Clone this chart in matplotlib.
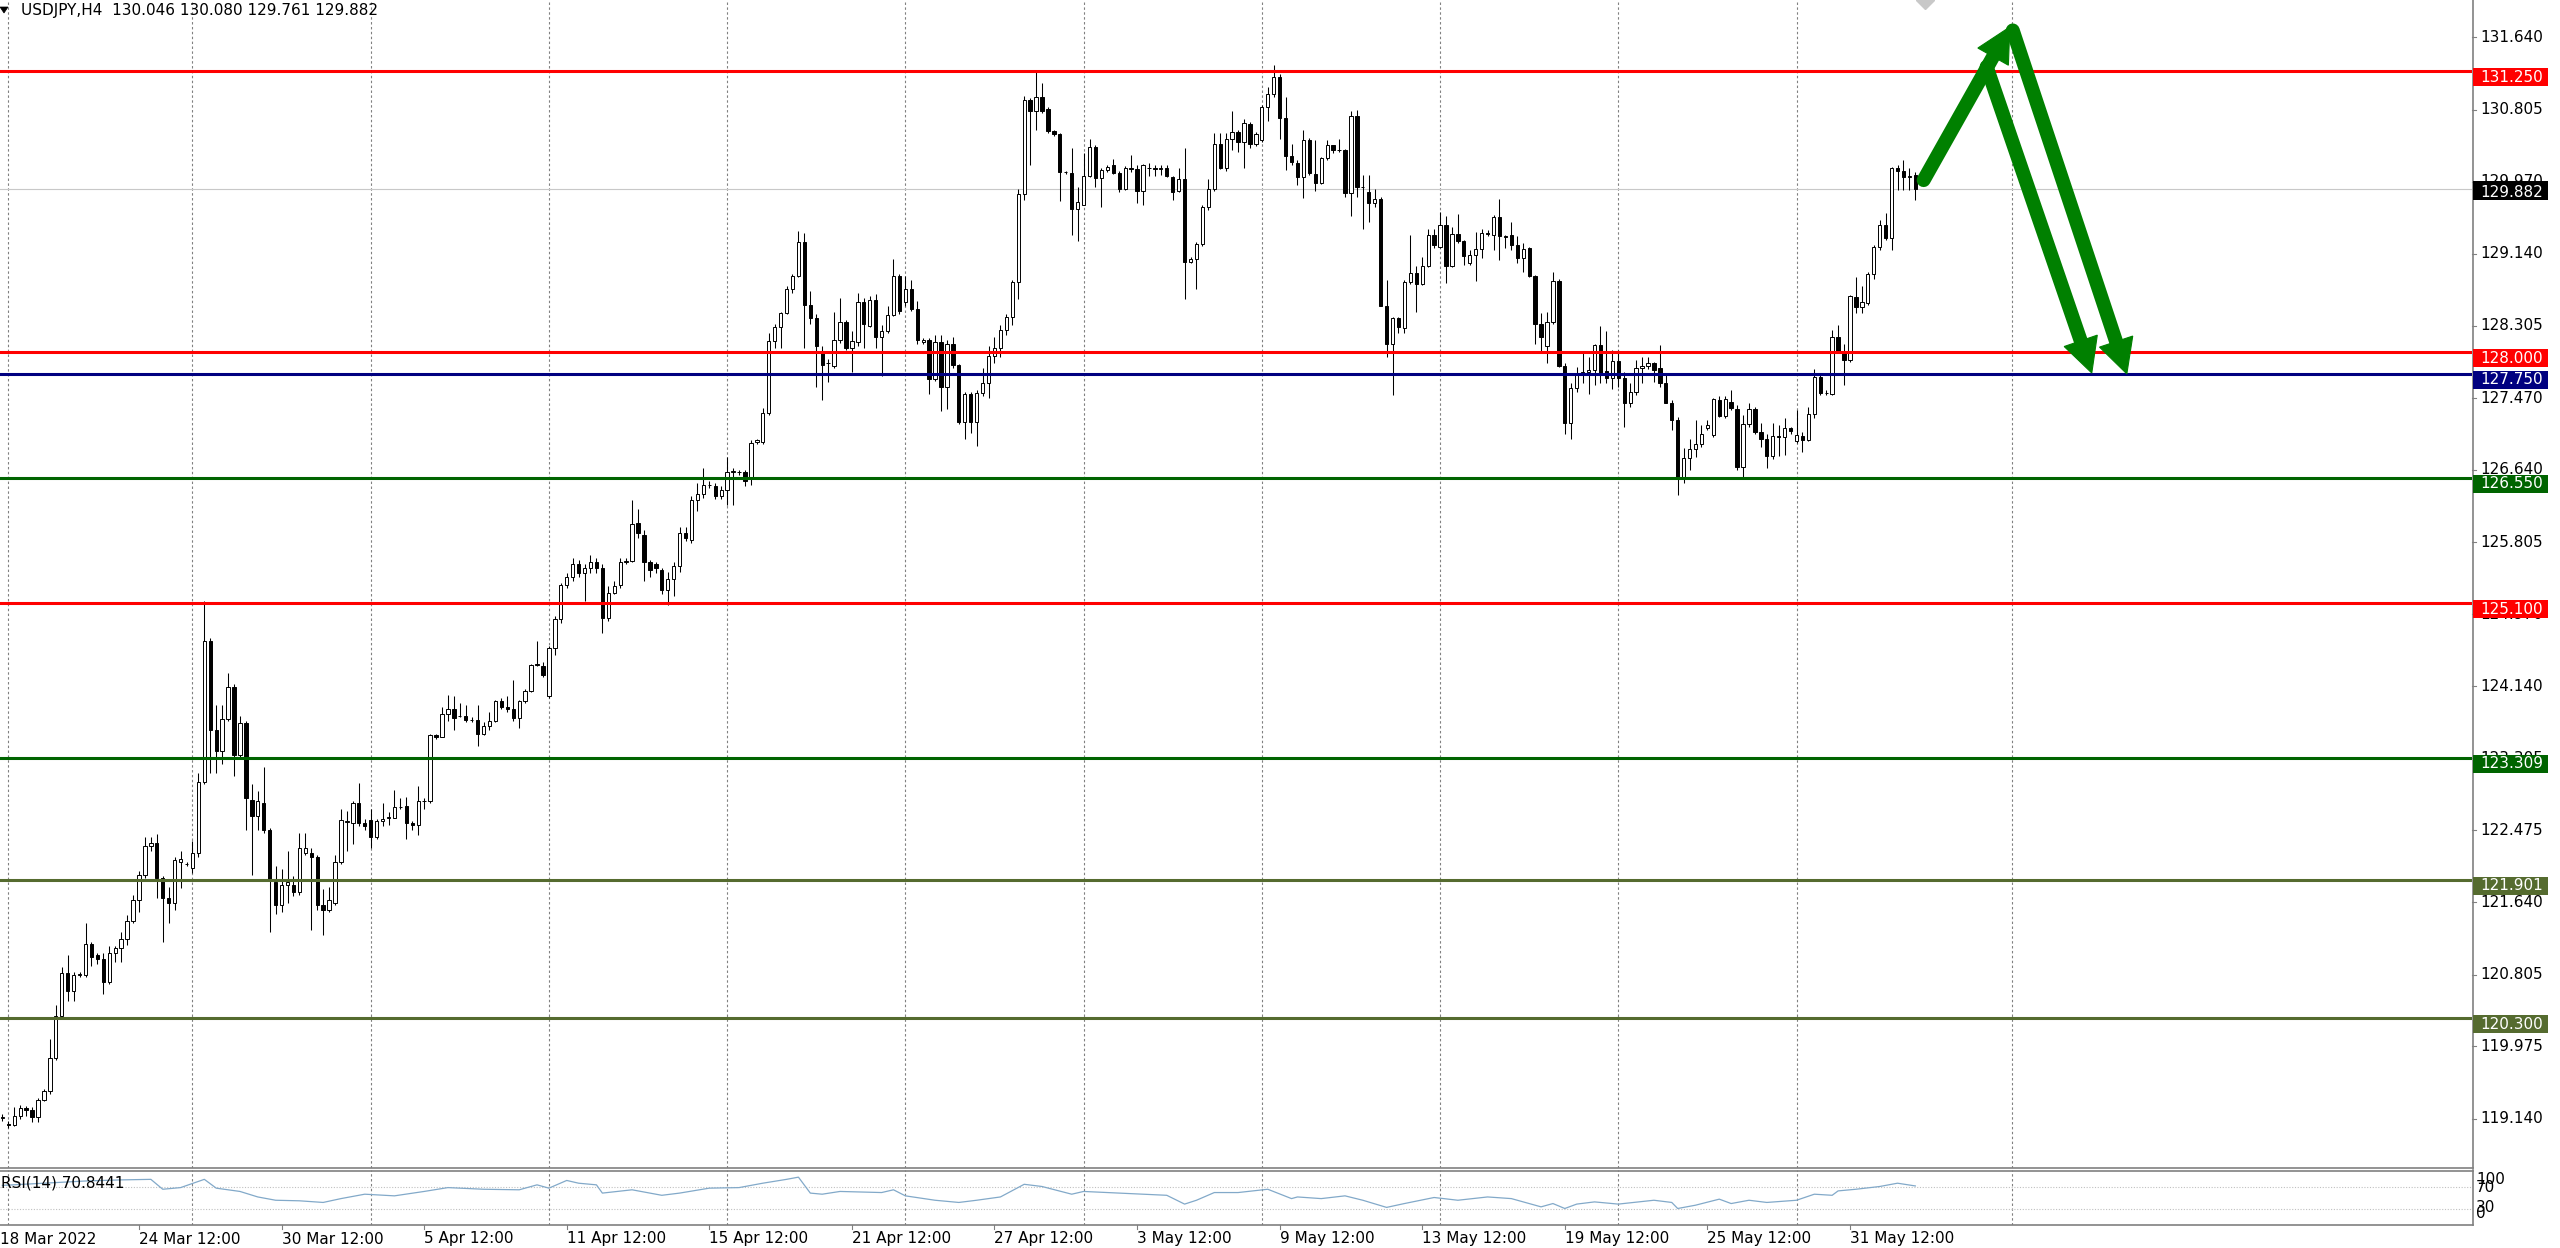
import numpy as np
import matplotlib
matplotlib.use("Agg")
import matplotlib.pyplot as plt
from matplotlib.patches import Rectangle, Polygon
from matplotlib.lines import Line2D
from matplotlib.transforms import blended_transform_factory as btf

plt.rcParams['font.family'] = ['DejaVu Sans']

# ---------------- data (USDJPY H4, bars 1..323) ----------------
opens = [
119.15,119.08,119.07,119.17,119.265,119.24,119.155,119.36,119.463,119.84,
120.33,120.825,120.62,120.80,120.805,121.156,121.03,120.99,120.722,121.05,
121.114,121.218,121.424,121.663,121.961,122.29,122.332,121.92,121.69,121.63,
122.105,122.085,122.043,122.209,123.034,124.665,123.633,123.385,123.757,124.128,
123.344,123.715,122.828,122.642,122.786,122.477,121.878,121.61,121.837,121.837,
121.754,122.209,122.209,122.167,121.61,121.548,121.63,122.105,122.57,122.559,
122.786,122.559,122.588,122.394,122.58,122.62,122.621,122.737,122.758,122.559,
122.539,122.81,122.815,123.571,123.55,123.82,123.872,123.80,123.798,123.75,
123.749,123.592,123.683,123.736,123.971,123.90,123.88,123.777,123.963,124.087,
124.39,124.376,124.025,124.583,124.913,125.305,125.40,125.55,125.45,125.50,
125.58,125.50,124.93,125.22,125.31,125.57,125.591,126.02,125.891,125.57,
125.55,125.485,125.25,125.378,125.527,125.912,125.827,126.297,126.362,126.468,
126.455,126.34,126.404,126.61,126.618,126.618,126.532,126.96,126.96,127.302,
128.128,128.295,128.449,128.735,128.885,129.278,128.543,128.393,128.008,127.88,
127.837,128.136,128.35,128.051,128.115,128.586,128.307,128.598,128.179,128.243,
128.436,128.876,128.586,128.735,128.50,128.115,128.136,127.687,128.115,127.593,
128.094,127.85,127.195,127.516,127.195,127.525,127.645,127.953,128.051,128.256,
128.406,128.808,129.826,130.917,130.788,130.947,130.81,130.553,130.519,130.083,
130.07,129.655,129.706,130.04,130.373,130.018,130.104,130.16,130.074,129.89,
130.125,130.117,129.869,130.134,130.125,130.12,130.125,130.031,129.869,129.997,
129.048,129.077,129.249,129.676,129.882,130.403,130.134,130.467,130.544,130.425,
130.639,130.403,130.454,130.831,130.981,131.178,130.704,130.269,130.184,130.03,
130.454,130.06,129.96,130.242,130.396,130.338,130.338,129.845,130.735,129.91,
129.856,129.729,129.768,128.535,128.095,128.392,128.276,128.808,128.92,128.789,
128.997,129.355,129.22,129.471,128.997,129.367,129.29,129.028,129.124,129.19,
129.38,129.355,129.567,129.344,129.355,129.24,129.086,129.201,128.881,128.326,
128.072,128.353,128.823,127.841,127.178,127.583,127.764,127.77,127.795,128.084,
127.787,127.698,127.903,127.698,127.409,127.544,127.814,127.841,127.872,127.814,
127.641,127.417,127.217,126.554,126.773,126.877,126.935,127.12,127.043,127.448,
127.263,127.429,127.34,126.669,127.17,127.34,127.082,126.993,126.80,127.032,
127.016,127.12,126.978,127.032,126.985,127.282,127.71,127.525,127.517,128.18,
128.007,127.91,128.642,128.527,128.565,128.904,129.213,129.471,129.317,130.125,
130.09,130.03,130.046]

highs = [
119.19,119.11,119.27,119.30,119.29,119.27,119.38,119.48,120.06,120.45,
120.89,121.03,120.83,120.84,121.40,121.18,121.05,121.05,121.13,121.13,
121.30,121.49,121.73,122.00,122.40,122.39,122.43,121.94,121.82,122.17,
122.23,122.105,122.35,123.14,125.12,124.70,123.92,123.92,124.29,124.17,
123.80,123.74,123.01,122.93,123.20,122.50,122.06,122.02,122.23,121.94,
122.44,122.44,122.27,122.19,121.80,121.82,122.19,122.72,122.70,122.81,
123.02,122.60,122.72,122.60,122.79,122.68,122.94,122.85,122.86,122.58,
122.99,122.85,123.59,123.59,123.90,124.04,124.03,123.94,123.92,123.78,
123.92,123.72,123.84,123.98,124.00,124.03,124.21,123.98,124.11,124.40,
124.665,124.42,124.60,124.95,125.33,125.45,125.62,125.60,125.55,125.65,
125.62,125.55,125.30,125.35,125.62,125.62,126.297,126.19,125.95,125.60,
125.58,125.50,125.46,125.57,125.98,125.98,126.34,126.49,126.66,126.51,
126.49,126.45,126.79,126.66,126.64,126.64,126.98,127.00,127.35,128.22,
128.33,128.46,128.76,128.91,129.40,129.38,128.71,128.44,128.07,127.92,
128.46,128.63,128.37,128.24,128.69,128.63,128.65,128.67,128.31,128.54,
129.08,128.91,128.88,128.84,128.59,128.16,128.16,128.20,128.20,128.14,
128.18,127.86,127.54,127.54,127.56,127.82,128.07,128.18,128.31,128.44,
128.84,129.89,130.96,130.94,131.24,131.11,130.83,130.57,130.53,130.10,
130.36,129.91,130.30,130.47,130.40,130.13,130.17,130.23,130.09,130.15,
130.28,130.17,130.18,130.19,130.17,130.16,130.17,130.04,130.125,130.36,
129.10,129.27,129.70,130.00,130.53,130.53,130.53,130.79,130.57,130.70,
130.66,130.55,130.86,131.07,131.32,131.22,130.95,130.41,130.22,130.57,
130.48,130.45,130.26,130.45,130.40,130.47,130.35,130.79,130.80,130.05,
130.05,129.89,129.80,128.84,128.41,128.41,128.83,129.35,128.997,129.10,
129.43,129.43,129.62,129.57,129.45,129.60,129.30,129.18,129.39,129.43,
129.41,129.59,129.77,129.36,129.51,129.34,129.26,129.22,128.89,128.45,
128.47,128.93,128.85,127.87,127.64,127.83,128.01,127.95,128.10,128.30,
128.24,128.03,128.03,127.77,127.64,127.91,127.95,127.95,127.89,128.08,
127.74,127.45,127.25,126.89,127.00,127.22,127.16,127.22,127.47,127.49,
127.49,127.56,127.39,127.27,127.41,127.37,127.18,127.06,127.18,127.16,
127.24,127.14,127.33,127.08,127.37,127.81,127.74,127.56,128.26,128.31,
128.10,128.66,128.87,128.76,128.93,129.24,129.53,129.61,130.14,130.165,
130.22,130.126,130.080]

lows = [
119.11,119.03,119.05,119.13,119.17,119.10,119.10,119.34,119.42,119.82,
120.32,120.50,120.50,120.78,120.78,120.91,120.93,120.58,120.70,120.95,
120.95,121.15,121.40,121.53,121.92,122.23,121.69,121.18,121.40,121.55,
121.81,122.06,121.98,122.17,123.01,123.14,123.14,123.24,123.74,123.10,
123.30,122.48,121.96,122.48,122.44,121.30,121.51,121.53,121.63,121.71,
121.73,122.19,121.32,121.55,121.26,121.53,121.61,122.08,122.23,122.31,
122.52,122.48,122.27,122.37,122.52,122.54,122.61,122.72,122.37,122.48,
122.42,122.72,122.79,123.53,123.55,123.74,123.63,123.78,123.72,123.72,
123.45,123.57,123.63,123.72,123.88,123.84,123.74,123.65,123.94,124.07,
124.375,124.25,124.00,124.50,124.87,125.28,125.35,125.40,125.12,125.45,
125.45,124.75,124.89,125.20,125.28,125.55,125.57,125.85,125.36,125.40,
125.45,125.20,125.08,125.18,125.46,125.82,125.80,126.17,126.32,126.43,
126.30,126.30,126.23,126.23,126.58,126.45,126.47,126.94,126.94,127.28,
128.05,128.05,128.44,128.69,128.87,128.05,128.33,127.60,127.45,127.66,
127.82,128.11,128.03,127.77,128.07,128.05,128.29,128.05,127.73,128.22,
128.42,128.44,128.54,128.48,128.09,128.09,127.52,127.67,127.32,127.34,
127.82,127.17,127.00,127.07,126.92,127.49,127.47,127.88,127.94,128.20,
128.31,128.61,129.76,130.17,130.57,130.77,130.53,130.50,129.75,130.06,
129.36,129.29,129.70,130.02,129.91,129.68,130.08,130.06,129.85,129.87,
130.08,129.72,129.70,130.04,130.04,130.05,130.02,129.76,129.85,128.61,
129.03,128.73,129.23,129.65,129.86,130.12,130.10,130.34,130.32,130.13,
130.36,130.38,130.43,130.67,130.95,130.47,130.11,130.17,129.93,129.78,
130.05,129.86,129.95,130.22,130.30,130.32,129.80,129.57,129.80,129.43,
129.50,129.68,128.53,127.95,127.50,128.22,128.22,128.79,128.47,128.78,
128.99,129.20,129.20,128.80,128.98,129.26,129.01,129.01,128.82,129.09,
129.34,129.18,129.07,129.20,129.18,129.03,128.93,128.87,128.10,128.01,
127.87,128.33,127.83,127.06,127.00,127.54,127.64,127.52,127.62,127.64,
127.64,127.58,127.60,127.14,127.37,127.50,127.64,127.81,127.66,127.60,
127.41,127.10,126.35,126.49,126.64,126.79,126.91,127.10,127.02,127.25,
127.24,127.33,126.64,126.55,127.14,127.06,126.91,126.66,126.77,126.80,
126.81,127.06,126.95,126.85,126.97,127.24,127.50,127.50,127.50,127.99,
127.62,127.89,128.45,128.45,128.55,128.85,129.18,129.30,129.18,129.875,
129.875,129.875,129.761]

closes = [
119.16,119.07,119.17,119.265,119.235,119.155,119.36,119.463,119.84,120.33,
120.825,120.62,120.805,120.81,121.156,121.011,120.99,120.722,121.052,121.114,
121.218,121.424,121.663,121.961,122.291,122.332,121.92,121.692,121.63,122.126,
122.146,122.08,122.209,123.034,124.665,123.633,123.385,123.757,124.128,123.344,
123.715,122.848,122.642,122.807,122.477,121.899,121.61,121.837,121.878,121.754,
122.27,122.27,122.167,121.61,121.548,121.672,122.105,122.588,122.58,122.786,
122.559,122.518,122.394,122.58,122.609,122.625,122.737,122.74,122.559,122.539,
122.807,122.815,123.579,123.55,123.819,123.872,123.777,123.795,123.749,123.745,
123.592,123.683,123.736,123.971,123.901,123.88,123.777,123.963,124.087,124.388,
124.385,124.273,124.583,124.913,125.305,125.40,125.55,125.45,125.50,125.58,
125.50,124.93,125.22,125.30,125.57,125.59,126.019,125.91,125.57,125.485,
125.506,125.25,125.378,125.527,125.912,125.848,126.297,126.362,126.468,126.47,
126.34,126.404,126.618,126.625,126.62,126.511,126.952,126.982,127.302,128.128,
128.295,128.449,128.735,128.885,129.278,128.543,128.393,128.072,127.858,127.875,
128.136,128.35,128.051,128.124,128.586,128.329,128.607,128.179,128.243,128.436,
128.876,128.479,128.735,128.50,128.136,128.14,127.687,128.115,127.593,128.094,
127.858,127.195,127.516,127.195,127.525,127.645,127.953,128.051,128.256,128.406,
128.808,129.826,130.917,130.788,130.947,130.788,130.553,130.519,130.083,130.08,
129.655,129.74,130.04,130.373,130.018,130.104,130.147,130.074,129.89,130.125,
130.12,129.869,130.16,130.13,130.12,130.125,130.04,129.847,129.997,129.048,
129.077,129.249,129.676,129.882,130.403,130.134,130.467,130.544,130.425,130.647,
130.403,130.519,130.831,130.981,131.178,130.704,130.269,130.203,130.022,130.454,
130.068,129.953,130.242,130.396,130.338,130.335,129.845,130.735,129.914,129.906,
129.729,129.768,128.535,128.095,128.392,128.296,128.808,128.92,128.789,128.997,
129.355,129.24,129.471,128.997,129.367,129.29,129.113,129.124,129.19,129.382,
129.37,129.567,129.344,129.336,129.24,129.086,129.19,128.881,128.326,128.18,
128.353,128.823,127.841,127.178,127.583,127.764,127.77,127.795,128.084,127.764,
127.698,127.903,127.698,127.417,127.544,127.814,127.841,127.879,127.795,127.641,
127.417,127.217,126.554,126.773,126.877,126.935,127.051,127.16,127.455,127.263,
127.455,127.351,126.669,127.17,127.34,127.082,126.993,126.80,127.032,127.024,
127.12,127.093,127.043,126.985,127.282,127.71,127.533,127.53,128.18,128.007,
127.91,128.65,128.527,128.585,128.904,129.213,129.471,129.317,130.126,130.09,
130.03,130.035,129.882]

# horizontal levels drawn on the chart
level_prices = [131.250, 128.000, 127.750, 126.550, 125.100, 123.309, 121.901, 120.300]
level_colors = ['#ff0000', '#ff0000', '#000080', '#006400', '#ff0000', '#006400', '#556b2f', '#556b2f']

# price scale
price_ticks = [131.640, 130.805, 129.970, 129.140, 128.305, 127.470, 126.640, 125.805,
               124.970, 124.140, 123.305, 122.475, 121.640, 120.805, 119.975, 119.140]

# time scale (bar index of each label)
date_labels = ['18 Mar 2022', '24 Mar 12:00', '30 Mar 12:00', '5 Apr 12:00', '11 Apr 12:00',
               '15 Apr 12:00', '21 Apr 12:00', '27 Apr 12:00', '3 May 12:00', '9 May 12:00',
               '13 May 12:00', '19 May 12:00', '25 May 12:00', '31 May 12:00']
date_label_bars = [0, 24, 48, 72, 96, 120, 144, 168, 192, 216, 240, 264, 288, 312]
grid_bars = [2, 33, 63, 93, 123, 153, 183, 213, 243, 273, 303, 339.3]

# RSI(14)
rsi_bars = [1, 8, 15, 21, 26, 28, 31, 35, 37, 41, 44, 47, 51, 55, 58, 62, 67, 72, 76, 82,
            88, 91, 93, 96, 98, 101, 102, 107, 112, 115, 120, 125, 129, 133, 135, 137, 139, 142, 149, 151,
            153, 158, 162, 165, 169, 173, 176, 181, 183, 189, 197, 200, 202, 205, 209, 214, 218, 219, 223, 227,
            230, 234, 237, 242, 246, 251, 255, 257, 260, 262, 264, 266, 269, 273, 279, 282, 283, 286, 290, 292,
            295, 298, 303, 306, 309, 310, 313, 317, 320, 323]
rsi_values = [72, 76, 80, 82, 83, 65, 68, 83, 67, 61, 51, 45, 44, 41, 48, 56, 53, 61, 68, 65,
              64, 73, 67, 81, 76, 73, 58, 64, 54, 58, 67, 68, 76, 83, 87, 58, 56, 61, 59, 64,
              53, 45, 41, 45, 51, 74, 70, 56, 61, 58, 54, 38, 45, 59, 59, 65, 48, 51, 48, 53,
              45, 32, 39, 50, 45, 51, 48, 42, 33, 39, 30, 38, 42, 38, 45, 41, 30, 36, 47, 39,
              45, 41, 45, 56, 54, 62, 65, 70, 76, 71]
rsi_last = 70.8441

# hand-drawn arrows (bar, price)
arrow_starts = [(324.4, 129.99), (339.4, 131.72), (335.0, 131.30)]
arrow_ends = [(338.9, 131.76), (358.6, 127.75), (352.7, 127.76)]
shift_marker_bar = 324.7

# ---------------- figure geometry ----------------
W, H = 2560, 1248
PLOT_R = 2472
MAIN_B = 1168
RSI_T, RSI_B = 1170, 1225
X0, X1 = 0.606, 416.7
Y0, Y1 = 118.569, 132.072

fig = plt.figure(figsize=(W / 100, H / 100), dpi=100)
fig.patch.set_facecolor('white')
ax = fig.add_axes([0, 1 - MAIN_B / H, PLOT_R / W, MAIN_B / H])
rx = fig.add_axes([0, 1 - RSI_B / H, PLOT_R / W, (RSI_B - RSI_T) / H])
for a in (ax, rx):
    a.set_xticks([]); a.set_yticks([])
    for s in a.spines.values():
        s.set_visible(False)
    a.set_facecolor('white')

GRAY = '#808080'
FS = 11

# grid
for b in grid_bars:
    ax.axvline(b, color=GRAY, lw=0.8, ls=(0, (2.2, 2.2)), zorder=0)
    rx.axvline(b, color=GRAY, lw=0.8, ls=(0, (2.2, 2.2)), zorder=0)

# current price line
ax.axhline(closes[-1], color='#c8c8c8', lw=0.8, zorder=1)

# candles
o = np.array(opens); c = np.array(closes)
hi = np.maximum(np.array(highs), np.maximum(o, c))
lo = np.minimum(np.array(lows), np.minimum(o, c))
idx = np.arange(1, len(o) + 1)
ax.vlines(idx, lo, hi, color='black', lw=0.75, zorder=2)
bull = c >= o
ax.bar(idx, np.abs(c - o), bottom=np.minimum(o, c), width=0.56,
       color=np.where(bull, 'white', 'black'), edgecolor='black', linewidth=0.7, zorder=3)

# levels
for p, col in zip(level_prices, level_colors):
    ax.axhline(p, color=col, lw=2.2, zorder=4)

ax.set_xlim(X0, X1); ax.set_ylim(Y0, Y1)
rx.set_xlim(X0, X1); rx.set_ylim(0, 100)

# chart shift marker
ax.plot([shift_marker_bar], [Y1], marker='D', ms=9, color='#c8c8c8', mec='#c8c8c8', zorder=5, clip_on=True)

# arrows
def draw_arrow(start, end, color='#008000', shaft_px=14, head_len=34, head_w=35):
    T = ax.transData
    p0 = T.transform(start); p1 = T.transform(end)
    d = p1 - p0; L = np.hypot(*d); u = d / L; nrm = np.array([-u[1], u[0]])
    base = p1 - u * head_len
    inv = T.inverted()
    shaft = inv.transform(np.array([p0, base + u * 3]))
    ax.plot(shaft[:, 0], shaft[:, 1], color=color, lw=shaft_px * 0.72,
            solid_capstyle='round', zorder=8)
    head = inv.transform(np.array([p1, base + nrm * head_w / 2, base - nrm * head_w / 2]))
    ax.add_patch(Polygon(head, closed=True, facecolor=color, edgecolor=color, lw=0.8, zorder=8))

for s, e in zip(arrow_starts, arrow_ends):
    draw_arrow(s, e)

# RSI
rx.axhline(70, color='#c0c0c0', lw=0.8, ls=(0, (1, 1.5)), zorder=1)
rx.axhline(30, color='#c0c0c0', lw=0.8, ls=(0, (1, 1.5)), zorder=1)
rx.plot(rsi_bars, rsi_values, color='#82a9c9', lw=0.9, zorder=3)

# borders
def fline(x0, y0, x1, y1, **kw):
    fig.add_artist(Line2D([x0 / W, x1 / W], [1 - y0 / H, 1 - y1 / H], **kw))

fline(PLOT_R + 0.5, 0, PLOT_R + 0.5, MAIN_B, color=GRAY, lw=1.2)
fline(0, MAIN_B - 0.5, PLOT_R + 1, MAIN_B - 0.5, color=GRAY, lw=1.2)
fline(0, RSI_T + 0.5, PLOT_R + 1, RSI_T + 0.5, color=GRAY, lw=1.2)
fline(0, RSI_B - 0.5, PLOT_R + 1, RSI_B - 0.5, color=GRAY, lw=1.2)
fline(PLOT_R + 0.5, RSI_T, PLOT_R + 0.5, RSI_B, color=GRAY, lw=1.2)

# price axis
tr = btf(fig.transFigure, ax.transData)
ppp = (Y1 - Y0) / MAIN_B
for t in price_ticks:
    fig.text(2480 / W, t, f"{t:.3f}", transform=tr, ha='left', va='center', fontsize=FS, color='black')
    fig.add_artist(Line2D([PLOT_R / W, (PLOT_R + 4) / W], [t, t], transform=tr, color=GRAY, lw=0.8))

for p, col in zip(level_prices, level_colors):
    fig.add_artist(Rectangle((2473 / W, p - 15 * ppp), 75 / W, 18 * ppp, transform=tr,
                             facecolor=col, edgecolor='none', zorder=6))
    fig.text(2480 / W, p - 6 * ppp, f"{p:.3f}", transform=tr, ha='left', va='center',
             fontsize=FS, color='white', zorder=7)

last = closes[-1]
fig.add_artist(Rectangle((2473 / W, last - 11 * ppp), 75 / W, 19 * ppp, transform=tr,
                         facecolor='black', edgecolor='none', zorder=6))
fig.text(2480 / W, last - 3 * ppp, f"{last:.3f}", transform=tr, ha='left', va='center',
         fontsize=FS, color='white', zorder=7)

# RSI axis labels (overlapping, as in the terminal)
rtr = btf(fig.transFigure, rx.transData)
fig.text(2476 / W, 82, '100', transform=rtr, ha='left', va='center', fontsize=FS)
fig.text(2476 / W, 68, '70', transform=rtr, ha='left', va='center', fontsize=FS)
fig.text(2476 / W, 31, '30', transform=rtr, ha='left', va='center', fontsize=FS)
fig.text(2476 / W, 21, '0', transform=rtr, ha='left', va='center', fontsize=FS)

# time axis
dtr = btf(rx.transData, fig.transFigure)
for i, (lab, b) in enumerate(zip(date_labels, date_label_bars)):
    xb = max(b, X0)
    fig.text(xb, 1 - 1239 / H, lab, transform=dtr, ha='left', va='center', fontsize=FS)
    if b > X0:
        fig.add_artist(Line2D([b, b], [1 - RSI_B / H, 1 - (RSI_B + 4) / H], transform=dtr, color=GRAY, lw=0.8))

# header
header = f"USDJPY,H4  {opens[-1]:.3f} {highs[-1]:.3f} {lows[-1]:.3f} {closes[-1]:.3f}"
fig.text(21 / W, 1 - 11 / H, header, ha='left', va='center', fontsize=FS)
fig.add_artist(Polygon([(0, 1 - 7 / H), (8 / W, 1 - 7 / H), (4 / W, 1 - 13 / H)], closed=True,
                       transform=fig.transFigure, facecolor='black', edgecolor='black', lw=0.5))
fig.text(1 / W, 1 - 1183 / H, f"RSI(14) {rsi_last:.4f}", ha='left', va='center', fontsize=FS)

fig.savefig('out.png', dpi=100, facecolor='white')
